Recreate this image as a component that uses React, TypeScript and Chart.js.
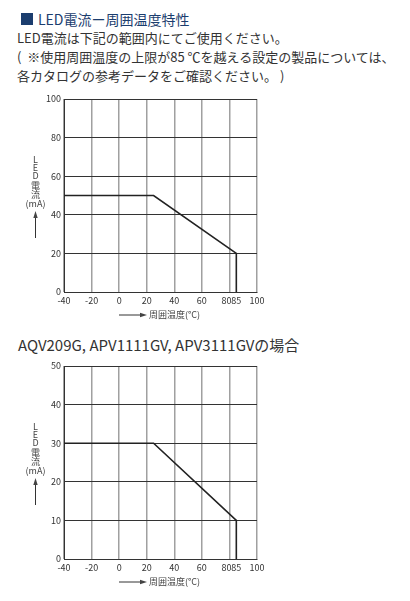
import React, { useEffect, useRef } from "react";
import { Chart, registerables } from "chart.js";

Chart.register(...registerables);

// ---- data ----
const xTickValues = [-40, -20, 0, 20, 40, 60, 80, 85, 100];
const xTickLabels = ["-40", "-20", "0", "20", "40", "60", "80   ", "85", "100"];

const temps1 = [-40, 25, 85, 85];
const current1 = [50, 50, 20, 0];
const yMax1 = 100;
const yStep1 = 20;

const temps2 = [-40, 25, 85, 85];
const current2 = [30, 30, 10, 0];
const yMax2 = 50;
const yStep2 = 10;

const yTitleChars = ["L", "E", "D", "電", "流", "(mA)"];
const xTitle = "周囲温度(°C)";

const FONT = "'Noto Sans CJK JP', 'Noto Sans', sans-serif";

const titlePlugin = {
  id: "axisTitles",
  afterDraw(chart: any) {
    const { ctx, chartArea } = chart;
    const top = chartArea.top;
    const bottom = chartArea.bottom;
    ctx.save();
    ctx.fillStyle = "#444";
    ctx.strokeStyle = "#333";
    ctx.font = `9px ${FONT}`;
    ctx.textAlign = "center";
    ctx.textBaseline = "middle";
    const cx = 35.5;
    const offs = [61, 69, 77, 87, 96, 105];
    yTitleChars.forEach((c, i) => {
      ctx.fillText(c, cx, top + offs[i]);
    });
    // up arrow
    ctx.lineWidth = 1;
    ctx.beginPath();
    ctx.moveTo(cx, top + 139);
    ctx.lineTo(cx, top + 116);
    ctx.stroke();
    ctx.beginPath();
    ctx.moveTo(cx, top + 112);
    ctx.lineTo(cx - 2.2, top + 119);
    ctx.lineTo(cx + 2.2, top + 119);
    ctx.closePath();
    ctx.fill();
    // x title arrow
    const ay = bottom + 23;
    ctx.beginPath();
    ctx.moveTo(119, ay);
    ctx.lineTo(143, ay);
    ctx.stroke();
    ctx.beginPath();
    ctx.moveTo(147, ay);
    ctx.lineTo(140, ay - 2.2);
    ctx.lineTo(140, ay + 2.2);
    ctx.closePath();
    ctx.fill();
    ctx.textAlign = "left";
    ctx.fillText(xTitle, 149, ay);
    ctx.restore();
  },
};

function DeratingChart({ temps, current, yMax, yStep, top }: any) {
  const ref = useRef<HTMLCanvasElement | null>(null);
  useEffect(() => {
    if (!ref.current) return;
    const chart = new Chart(ref.current, {
      type: "line",
      data: {
        datasets: [
          {
            data: temps.map((t: number, i: number) => ({ x: t, y: current[i] })),
            borderColor: "#222",
            borderWidth: 1.6,
            pointRadius: 0,
            tension: 0,
            fill: false,
          },
        ],
      },
      options: {
        responsive: false,
        animation: false,
        events: [],
        layout: { padding: { top: 9, right: 23, left: 0, bottom: 0 } },
        plugins: { legend: { display: false }, tooltip: { enabled: false }, title: { display: false } },
        scales: {
          x: {
            type: "linear",
            min: -40,
            max: 100,
            afterBuildTicks: (axis: any) => {
              axis.ticks = xTickValues.map((v) => ({ value: v }));
            },
            afterFit: (s: any) => {
              s.height = 38;
            },
            ticks: {
              autoSkip: false,
              maxRotation: 0,
              minRotation: 0,
              padding: 3,
              color: "#333",
              font: { size: 9, family: FONT },
              callback: (v: any) => {
                const i = xTickValues.indexOf(Number(v));
                return i >= 0 ? xTickLabels[i] : "";
              },
            },
            grid: {
              drawTicks: false,
              color: (c: any) => (c.tick && c.tick.value === 85 ? "rgba(0,0,0,0)" : "#a0a0a0"),
              lineWidth: 1.5,
            },
            border: { display: true, color: "#333", width: 1 },
          },
          y: {
            type: "linear",
            min: 0,
            max: yMax,
            afterFit: (s: any) => {
              s.width = 64;
            },
            ticks: {
              stepSize: yStep,
              padding: 3,
              color: "#333",
              font: { size: 9, family: FONT },
            },
            grid: { drawTicks: false, color: "#333", lineWidth: 1 },
            border: { display: true, color: "#333", width: 1 },
          },
        },
      },
      plugins: [titlePlugin],
    } as any);
    return () => chart.destroy();
  }, []);
  return (
    <canvas
      ref={ref}
      width={280}
      height={240}
      style={{ position: "absolute", left: 0, top, width: 280, height: 240 }}
    />
  );
}

export default function App() {
  const body: React.CSSProperties = {
    position: "absolute",
    left: 17,
    fontSize: 13,
    lineHeight: "19px",
    color: "#333",
    whiteSpace: "pre",
    fontFamily: FONT,
  };
  return (
    <div
      style={{
        position: "absolute",
        left: 0,
        top: 0,
        width: 410,
        height: 601,
        background: "#fff",
        fontFamily: FONT,
        overflow: "hidden",
      }}
    >
      <div style={{ position: "absolute", left: 21, top: 13, width: 12, height: 12, background: "#1b3d6e" }} />
      <div
        style={{
          position: "absolute",
          left: 38,
          top: 9,
          fontSize: 14,
          lineHeight: "20px",
          color: "#1b3d6e",
          whiteSpace: "pre",
        }}
      >
        LED電流ー周囲温度特性
      </div>
      <div style={{ ...body, top: 28 }}>LED電流は下記の範囲内にてご使用ください。</div>
      <div style={{ ...body, top: 47 }}>(  ※使用周囲温度の上限が85 ℃を越える設定の製品については、</div>
      <div style={{ ...body, top: 66 }}>各カタログの参考データをご確認ください。 )</div>
      <DeratingChart temps={temps1} current={current1} yMax={yMax1} yStep={yStep1} top={90} />
      <div
        style={{
          position: "absolute",
          left: 18,
          top: 335,
          fontSize: 15,
          lineHeight: "20px",
          color: "#333",
          whiteSpace: "pre",
        }}
      >
        AQV209G, APV1111GV, APV3111GVの場合
      </div>
      <DeratingChart temps={temps2} current={current2} yMax={yMax2} yStep={yStep2} top={357} />
    </div>
  );
}
